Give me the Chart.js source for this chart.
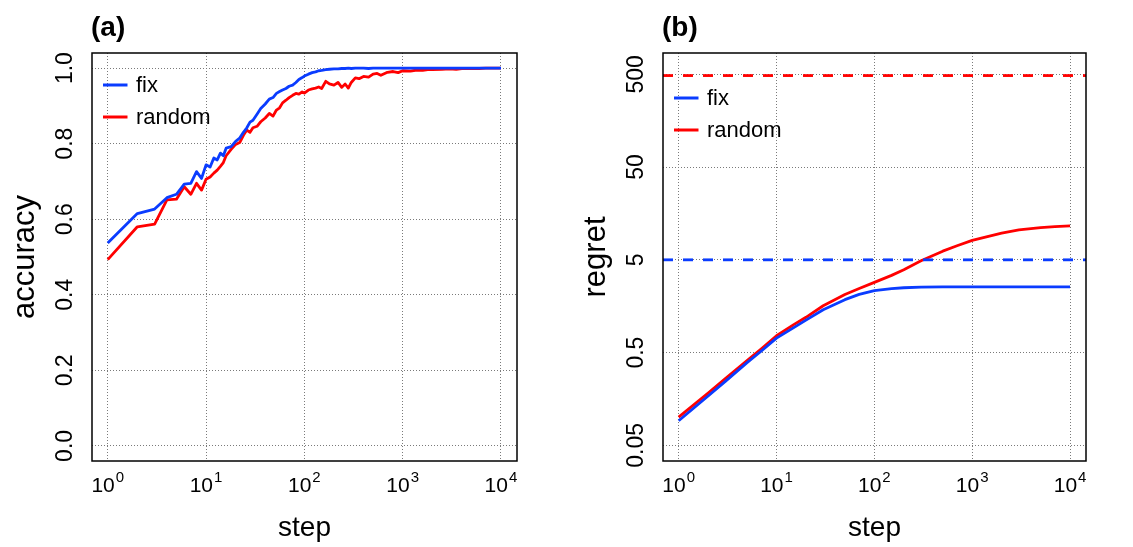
<!DOCTYPE html>
<html><head><meta charset="utf-8">
<script src="https://cdn.jsdelivr.net/npm/chart.js@4.4.1/dist/chart.umd.min.js"></script>
<style>
html,body{margin:0;padding:0;background:#fff;width:1133px;height:547px;overflow:hidden}
.wrap{position:absolute;top:0;height:547px}
#wa{left:0;width:566px}
#wb{left:566px;width:567px}
</style></head><body>
<div class="wrap" id="wa"><canvas id="ca"></canvas></div>
<div class="wrap" id="wb"><canvas id="cb"></canvas></div>
<script>
// ---------- data ----------
const seriesLabels = ['fix', 'random'];
const panelLabels = ['(a)', '(b)'];
const xTitle = 'step';
const yTitles = ['accuracy', 'regret'];

const stepsA = [1,2,3,4,5,6,7,8,9,10,
  11,12,13,14,15,16,18,20,22,24,
  26,28,30,33,36,40,44,48,52,56,
  60,65,70,76,82,88,95,100,110,120,
  130,140,150,165,180,200,220,240,260,280,
  300,330,360,400,450,500,550,600,700,800,
  900,1000,1200,1400,1600,1800,2000,2500,3000,3500,
  4000,5000,6000,7000,8000,10000];
const accFix = [0.537,0.615,0.627,0.657,0.666,0.693,0.695,0.726,0.708,0.744,
  0.738,0.762,0.757,0.775,0.768,0.788,0.792,0.806,0.815,0.830,
  0.842,0.857,0.862,0.878,0.893,0.905,0.918,0.922,0.933,0.938,
  0.942,0.946,0.952,0.955,0.962,0.970,0.975,0.979,0.984,0.988,
  0.990,0.993,0.994,0.996,0.997,0.998,0.998,0.999,0.999,1.000,
  0.999,1.000,1.000,1.000,0.999,1.000,1.000,1.000,1.000,1.000,
  1.000,1.000,1.000,1.000,1.000,1.000,1.000,1.000,1.000,1.000,
  1.000,1.000,1.000,1.000,1.000,1.000];
const accRandom = [0.493,0.580,0.587,0.651,0.653,0.686,0.666,0.695,0.677,0.706,
  0.712,0.722,0.730,0.740,0.750,0.768,0.785,0.798,0.803,0.822,
  0.836,0.830,0.842,0.846,0.858,0.868,0.880,0.873,0.889,0.895,
  0.908,0.915,0.922,0.928,0.933,0.931,0.937,0.934,0.942,0.945,
  0.947,0.950,0.946,0.965,0.958,0.955,0.962,0.949,0.958,0.947,
  0.962,0.974,0.972,0.978,0.976,0.984,0.986,0.981,0.989,0.991,
  0.988,0.993,0.992,0.995,0.994,0.996,0.996,0.997,0.998,0.997,
  0.999,0.999,0.999,1.000,1.000,1.000];

const stepsB = [1,2,3,5,7,10,15,20,30,50,70,100,150,200,300,500,700,1000,1500,2000,3000,5000,7000,10000];
const regretFix = [0.092,0.170,0.245,0.390,0.520,0.716,0.930,1.12,1.45,1.86,2.12,2.33,2.45,2.50,2.54,2.56,2.56,2.56,2.56,2.56,2.56,2.56,2.56,2.56];
const regretRandom = [0.1005,0.183,0.262,0.410,0.550,0.759,1.00,1.20,1.60,2.11,2.45,2.86,3.40,3.90,4.88,6.20,7.10,8.10,9.00,9.70,10.50,11.15,11.40,11.60];
const regretBounds = [5, 485];   // fix bound, random bound (dashed)

const xTickValues = [1,10,100,1000,10000];
const xTickBase = '10';
const xTickExponents = ['0','1','2','3','4'];
const accTicks = [0,0.2,0.4,0.6,0.8,1.0];
const accTickLabels = ['0.0','0.2','0.4','0.6','0.8','1.0'];
const regretTicks = [0.05,0.5,5,50,500];
const regretTickLabels = ['0.05','0.5','5','50','500'];

// ---------- styling ----------
const FONT = "'Liberation Sans', Arial, Helvetica, sans-serif";
const BLUE = '#0a3cff', RED = '#ff0000';
const X_MIN = Math.pow(10, -0.16), X_MAX = Math.pow(10, 4.163);

function pts(xs, ys) { return xs.map((x, i) => ({x: x, y: ys[i]})); }

function decor(opt) {
  return {
    id: 'decor',
    afterDraw(chart) {
      const ctx = chart.ctx, a = chart.chartArea;
      const xs = chart.scales.x, ys = chart.scales.y;
      ctx.save();
      ctx.strokeStyle = '#000'; ctx.lineWidth = 1.5;
      ctx.strokeRect(a.left, a.top, a.right - a.left, a.bottom - a.top);
      ctx.fillStyle = '#000';
      // y tick labels (rotated)
      ctx.font = '23px ' + FONT;
      ctx.textAlign = 'center'; ctx.textBaseline = 'alphabetic';
      opt.yTicks.forEach((v, i) => {
        const y = ys.getPixelForValue(v);
        ctx.save(); ctx.translate(a.left - 20, y); ctx.rotate(-Math.PI / 2);
        ctx.fillText(opt.yLabels[i], 0, 0); ctx.restore();
      });
      // x tick labels 10^n
      ctx.textAlign = 'left';
      xTickValues.forEach((v, i) => {
        const x = xs.getPixelForValue(v);
        ctx.font = '21px ' + FONT; const w1 = ctx.measureText(xTickBase).width;
        ctx.font = '15px ' + FONT; const w2 = ctx.measureText(xTickExponents[i]).width;
        const x0 = x - (w1 + 1 + w2) / 2;
        ctx.font = '21px ' + FONT; ctx.fillText(xTickBase, x0, a.bottom + 30.5);
        ctx.font = '15px ' + FONT; ctx.fillText(xTickExponents[i], x0 + w1 + 1, a.bottom + 21);
      });
      // axis titles
      ctx.textAlign = 'center';
      ctx.font = '28px ' + FONT;
      ctx.fillText(xTitle, (a.left + a.right) / 2, a.bottom + 75);
      ctx.font = '31px ' + FONT;
      ctx.save(); ctx.translate(a.left - opt.yTitleOff, (a.top + a.bottom) / 2); ctx.rotate(-Math.PI / 2);
      ctx.fillText(opt.yTitle, 0, 0); ctx.restore();
      // panel label
      ctx.textAlign = 'left';
      ctx.font = 'bold 28px ' + FONT;
      ctx.fillText(opt.panel, a.left - 1, 36);
      // legend
      ctx.font = '22px ' + FONT;
      let row = 0;
      chart.data.datasets.forEach(ds => {
        if (!ds.label) return;
        const ly = a.top + opt.legendTop + row * 32;
        ctx.strokeStyle = ds.borderColor; ctx.lineWidth = 3; ctx.setLineDash([]);
        ctx.beginPath(); ctx.moveTo(a.left + 11, ly); ctx.lineTo(a.left + 35.5, ly); ctx.stroke();
        ctx.fillText(ds.label, a.left + 44, ly + 6.5);
        row++;
      });
      ctx.restore();
    }
  };
}

function makeChart(canvas, datasets, yScale, opt) {
  return new Chart(canvas, {
    type: 'line',
    data: { datasets: datasets },
    options: {
      responsive: true, maintainAspectRatio: false, animation: false, events: [],
      layout: { padding: { left: 0, right: opt.padRight, top: 53, bottom: 0 } },
      plugins: { legend: { display: false }, tooltip: { enabled: false } },
      elements: { point: { radius: 0 }, line: { borderWidth: 2.8, tension: 0, borderJoinStyle: 'round' } },
      scales: {
        x: {
          type: 'logarithmic', min: X_MIN, max: X_MAX,
          afterBuildTicks: s => { s.ticks = xTickValues.map(v => ({ value: v })); },
          afterFit: s => { s.height = 86; },
          ticks: { display: false },
          grid: { color: '#7a7a7a', lineWidth: 1, drawTicks: false },
          border: { display: false, dash: [1, 2] }
        },
        y: Object.assign({
          afterFit: s => { s.width = opt.yWidth; },
          ticks: { display: false },
          grid: { color: '#7a7a7a', lineWidth: 1, drawTicks: false },
          border: { display: false, dash: [1, 2] }
        }, yScale)
      }
    },
    plugins: [decor(opt)]
  });
}

makeChart(document.getElementById('ca'), [
  { label: seriesLabels[0], data: pts(stepsA, accFix), borderColor: BLUE },
  { label: seriesLabels[1], data: pts(stepsA, accRandom), borderColor: RED }
], {
  type: 'linear', min: -0.04, max: 1.04,
  afterBuildTicks: s => { s.ticks = accTicks.map(v => ({ value: v })); }
}, { padRight: 49, yWidth: 92, yTicks: accTicks, yLabels: accTickLabels,
     yTitle: yTitles[0], yTitleOff: 58, panel: panelLabels[0], legendTop: 32 });

makeChart(document.getElementById('cb'), [
  { label: '', data: pts([X_MIN, X_MAX], [regretBounds[0], regretBounds[0]]), borderColor: BLUE, borderDash: [10, 10] },
  { label: '', data: pts([X_MIN, X_MAX], [regretBounds[1], regretBounds[1]]), borderColor: RED, borderDash: [10, 10] },
  { label: seriesLabels[0], data: pts(stepsB, regretFix), borderColor: BLUE },
  { label: seriesLabels[1], data: pts(stepsB, regretRandom), borderColor: RED }
], {
  type: 'logarithmic', min: Math.pow(10, -1.470), max: Math.pow(10, 2.929),
  afterBuildTicks: s => { s.ticks = regretTicks.map(v => ({ value: v })); }
}, { padRight: 47, yWidth: 97, yTicks: regretTicks, yLabels: regretTickLabels,
     yTitle: yTitles[1], yTitleOff: 58, panel: panelLabels[1], legendTop: 45 });
</script>
</body></html>
